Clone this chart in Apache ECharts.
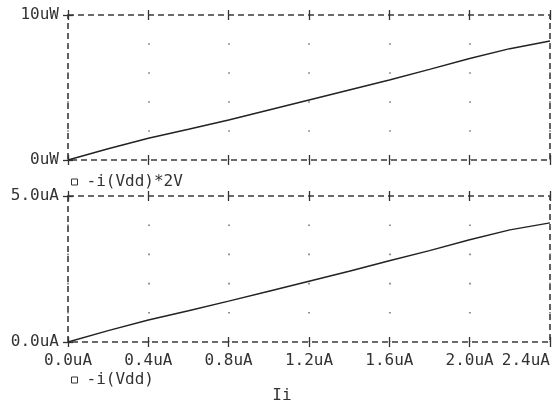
<!DOCTYPE html>
<html>
<head>
<meta charset="utf-8">
<script src="https://cdn.jsdelivr.net/npm/echarts@6/dist/echarts.min.js"></script>
<style>html,body{margin:0;padding:0;background:#fff;}#c{width:553px;height:404px;}</style>
</head>
<body>
<div id="c"></div>
<script>
// Data
const xValues = [0, 0.2, 0.4, 0.6, 0.8, 1.0, 1.2, 1.4, 1.6, 1.8, 2.0, 2.2, 2.4];          // Ii (uA)
const powerValues = [0, 0.78, 1.5, 2.12, 2.76, 3.45, 4.14, 4.83, 5.52, 6.25, 7.0, 7.68, 8.2]; // -i(Vdd)*2V (uW)
const currentValues = [0, 0.39, 0.75, 1.07, 1.40, 1.74, 2.08, 2.42, 2.78, 3.13, 3.50, 3.84, 4.08]; // -i(Vdd) (uA)
const seriesNames = ['-i(Vdd)*2V', '-i(Vdd)'];
const xTitle = 'Ii';
const xTick = {min: 0, max: 2.4, interval: 0.4};
const topY = {min: 0, max: 10, interval: 10};
const botY = {min: 0, max: 5, interval: 5};

const FONT = 'DejaVu Sans Mono';
const FS = 16;
const INK = '#333';
const H1 = 145, H2 = 146;

function pair(xs, ys) { return xs.map((x, i) => [x, ys[i]]); }

function xAx(gi, pos, showLabel, split, h) {
  const per = h / 5;
  return {
    type: 'value', gridIndex: gi, position: pos,
    min: xTick.min, max: xTick.max, interval: xTick.interval,
    offset: -5,
    axisLine: {show: false},
    axisTick: {show: true, length: 10, lineStyle: {color: INK, width: 1.3}},
    axisLabel: {
      show: showLabel, margin: 16, color: INK, fontFamily: FONT, fontSize: FS,
      showMinLabel: true, showMaxLabel: true, alignMaxLabel: 'right',
      formatter: v => v.toFixed(1) + 'uA'
    },
    splitLine: {show: split, lineStyle: {color: '#777', width: 1.6, type: [1.6, per - 1.6], dashOffset: 0.8}}
  };
}
function yAx(gi, rng, fmt) {
  return {
    type: 'value', gridIndex: gi, position: 'left',
    min: rng.min, max: rng.max, interval: rng.interval,
    offset: -5,
    axisLine: {show: false},
    axisTick: {show: true, length: 10, lineStyle: {color: INK, width: 1.3}},
    axisLabel: {margin: 14, color: INK, fontFamily: FONT, fontSize: FS, formatter: fmt},
    splitLine: {show: false}
  };
}

const chart = echarts.init(document.getElementById('c'), null, {renderer: 'canvas'});
chart.setOption({
  backgroundColor: '#fff',
  animation: false,
  grid: [
    {left: 68, right: 3, top: 15, height: H1, show: true, borderColor: '#3a3a3a', borderWidth: 1.6, borderType: [6, 4]},
    {left: 68, right: 3, top: 196, height: H2, show: true, borderColor: '#3a3a3a', borderWidth: 1.6, borderType: [6, 4]}
  ],
  xAxis: [
    xAx(0, 'bottom', false, true, H1),
    xAx(0, 'top', false, false, H1),
    xAx(1, 'bottom', true, true, H2),
    xAx(1, 'top', false, false, H2)
  ],
  yAxis: [
    yAx(0, topY, v => v + 'uW'),
    yAx(1, botY, v => v.toFixed(1) + 'uA')
  ],
  legend: [
    {data: [seriesNames[0]], left: 66, top: 169, icon: 'rect', itemWidth: 6, itemHeight: 6, selectedMode: false,
     itemStyle: {color: '#fff', borderColor: INK, borderWidth: 1},
     textStyle: {fontFamily: FONT, fontSize: FS, color: INK, padding: [0, 0, 0, 4]}},
    {data: [seriesNames[1]], left: 66, top: 367, icon: 'rect', itemWidth: 6, itemHeight: 6, selectedMode: false,
     itemStyle: {color: '#fff', borderColor: INK, borderWidth: 1},
     textStyle: {fontFamily: FONT, fontSize: FS, color: INK, padding: [0, 0, 0, 4]}}
  ],
  graphic: [
    {type: 'text', x: 282, y: 396, style: {text: xTitle, fill: INK, font: FS + 'px ' + FONT, textAlign: 'center', textVerticalAlign: 'middle'}}
  ],
  series: [
    {name: seriesNames[0], type: 'line', xAxisIndex: 0, yAxisIndex: 0, data: pair(xValues, powerValues),
     showSymbol: false, lineStyle: {color: '#222', width: 1.5}, itemStyle: {color: '#222'}, z: 5},
    {name: seriesNames[1], type: 'line', xAxisIndex: 2, yAxisIndex: 1, data: pair(xValues, currentValues),
     showSymbol: false, lineStyle: {color: '#222', width: 1.5}, itemStyle: {color: '#222'}, z: 5}
  ]
});
</script>
</body>
</html>
